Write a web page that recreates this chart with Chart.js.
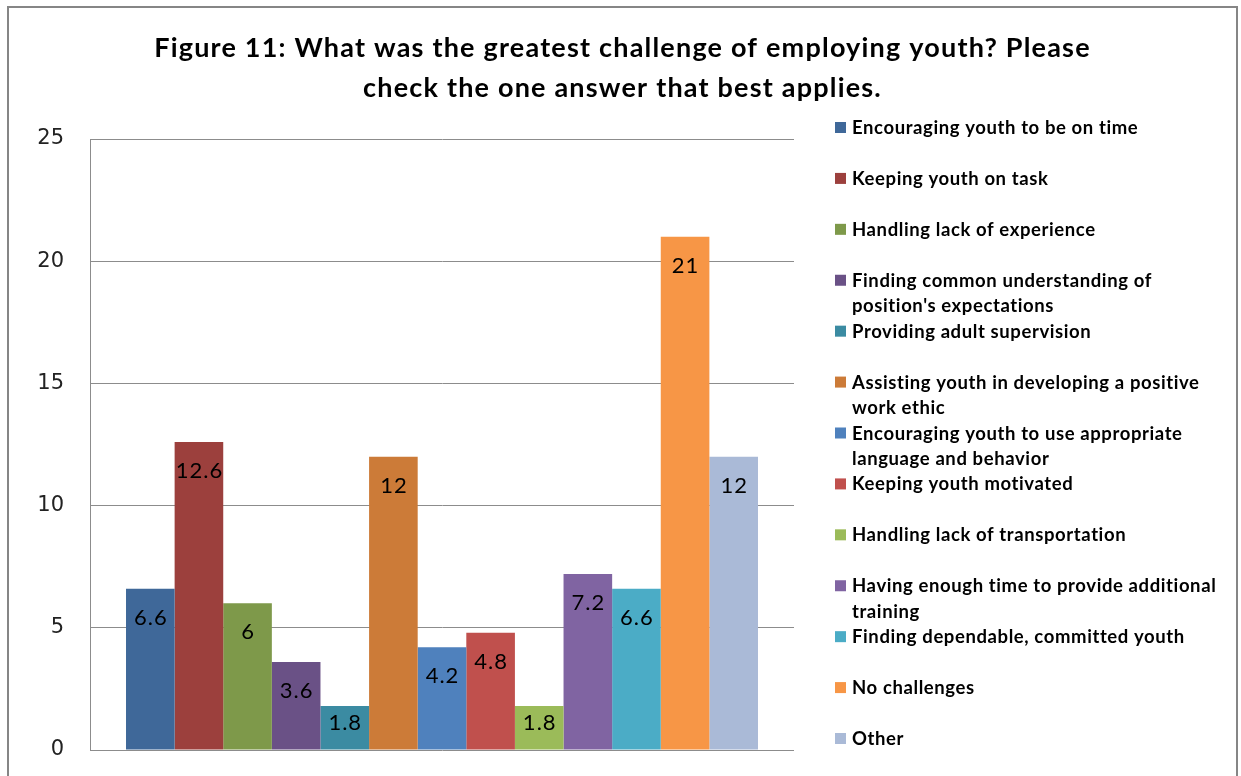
<!DOCTYPE html>
<html>
<head>
<meta charset="utf-8">
<script src="https://cdn.jsdelivr.net/npm/chart.js@4.4.1/dist/chart.umd.min.js"></script>
<style>
  html, body { margin: 0; padding: 0; background: #ffffff; }
  #wrap { position: relative; width: 1241px; height: 776px; overflow: hidden; }
  #frame { position: absolute; left: 7px; top: 6px; width: 1231px; height: 800px; border: 2px solid #868686; box-sizing: border-box; }
  canvas { position: absolute; left: 0; top: 0; }
</style>
</head>
<body>
<div id="wrap">
  <div id="frame"></div>
  <canvas id="c" width="1241" height="776"></canvas>
</div>
<script>
// ---- data ----
const titleLines = [
  "Figure 11: What was the greatest challenge of employing youth? Please",
  "check the one answer that best applies."
];
const seriesNames = [
  "Encouraging youth to be on time",
  "Keeping youth on task",
  "Handling lack of experience",
  "Finding common understanding of\nposition's expectations",
  "Providing adult supervision",
  "Assisting youth in developing a positive\nwork ethic",
  "Encouraging youth to use appropriate\nlanguage and behavior",
  "Keeping youth motivated",
  "Handling lack of transportation",
  "Having enough time to provide additional\ntraining",
  "Finding dependable, committed youth",
  "No challenges",
  "Other"
];
const seriesValues = [6.6, 12.6, 6, 3.6, 1.8, 12, 4.2, 4.8, 1.8, 7.2, 6.6, 21, 12];
const seriesColors = [
  "#3F6899", "#9C403D", "#7E994A", "#6A5186", "#3B8BA2", "#CC7B38",
  "#4F81BD", "#C0504D", "#9BBB59", "#8064A2", "#4BACC6", "#F79646", "#AABAD7"
];
const yTicks = [0, 5, 10, 15, 20, 25];

// ---- plugins ----
function setSpacing(ctx, v) { if ('letterSpacing' in ctx) ctx.letterSpacing = v; }

const titlePlugin = {
  id: 'titlePlugin',
  afterDraw(chart) {
    const ctx = chart.ctx;
    ctx.save();
    ctx.font = 'bold 27px Lato';
    setSpacing(ctx, '1.2px');
    ctx.fillStyle = '#000000';
    ctx.textAlign = 'center';
    ctx.textBaseline = 'alphabetic';
    titleLines.forEach((line, i) => {
      ctx.fillText(line, chart.width / 2 + 2, 57 + i * 40);
    });
    ctx.restore();
  }
};

const valueLabels = {
  id: 'valueLabels',
  afterDatasetsDraw(chart) {
    const ctx = chart.ctx;
    ctx.save();
    ctx.font = '22px Lato';
    setSpacing(ctx, '1px');
    ctx.fillStyle = '#000000';
    ctx.textAlign = 'center';
    ctx.textBaseline = 'middle';
    chart.data.datasets.forEach((ds, i) => {
      const el = chart.getDatasetMeta(i).data[0];
      if (!el) return;
      const y = Math.min(el.y + 29, el.base - 27);
      ctx.fillText(String(ds.data[0]), el.x + 0.5, y);
    });
    ctx.restore();
  }
};

const sideLegend = {
  id: 'sideLegend',
  afterDraw(chart) {
    const ctx = chart.ctx;
    const area = chart.chartArea;
    const n = chart.data.datasets.length;
    const step = (area.bottom - area.top) / (n - 1);
    const boxX = area.right + 41;
    const textX = boxX + 17;
    ctx.save();
    ctx.font = 'bold 18.5px Lato';
    setSpacing(ctx, '0.6px');
    ctx.textAlign = 'left';
    ctx.textBaseline = 'alphabetic';
    chart.data.datasets.forEach((ds, i) => {
      const base = area.top - 5 + i * step;
      ctx.fillStyle = ds.backgroundColor;
      ctx.fillRect(boxX, base - 12, 11, 11);
      ctx.fillStyle = '#000000';
      ds.label.split('\n').forEach((line, j) => {
        ctx.fillText(line, textX, base + j * 25.7);
      });
    });
    ctx.restore();
  }
};

// ---- chart ----
const datasets = seriesNames.map((name, i) => ({
  label: name,
  data: [seriesValues[i]],
  backgroundColor: seriesColors[i],
  borderWidth: 0
}));

new Chart(document.getElementById('c'), {
  type: 'bar',
  data: { labels: [''], datasets },
  options: {
    responsive: false,
    animation: false,
    maintainAspectRatio: false,
    layout: { padding: { left: 0, right: 447, top: 139, bottom: 26 } },
    datasets: { bar: { barPercentage: 1, categoryPercentage: 0.8977 } },
    plugins: {
      legend: { display: false },
      tooltip: { enabled: false },
      title: { display: false }
    },
    scales: {
      x: { display: false },
      y: {
        min: 0, max: 25,
        afterFit(scale) {
          scale.width = 90;
          scale.paddingTop = 0;
          scale.paddingBottom = 0;
        },
        afterBuildTicks(scale) { scale.ticks = yTicks.map(v => ({ value: v })); },
        ticks: {
          color: '#222222',
          font: { family: 'DejaVu Sans', size: 21 },
          padding: 26
        },
        grid: { color: '#8C8C8C', lineWidth: 1, drawTicks: false },
        border: { display: true, color: '#8C8C8C', width: 1 }
      }
    }
  },
  plugins: [valueLabels, sideLegend, titlePlugin]
});
</script>
</body>
</html>
